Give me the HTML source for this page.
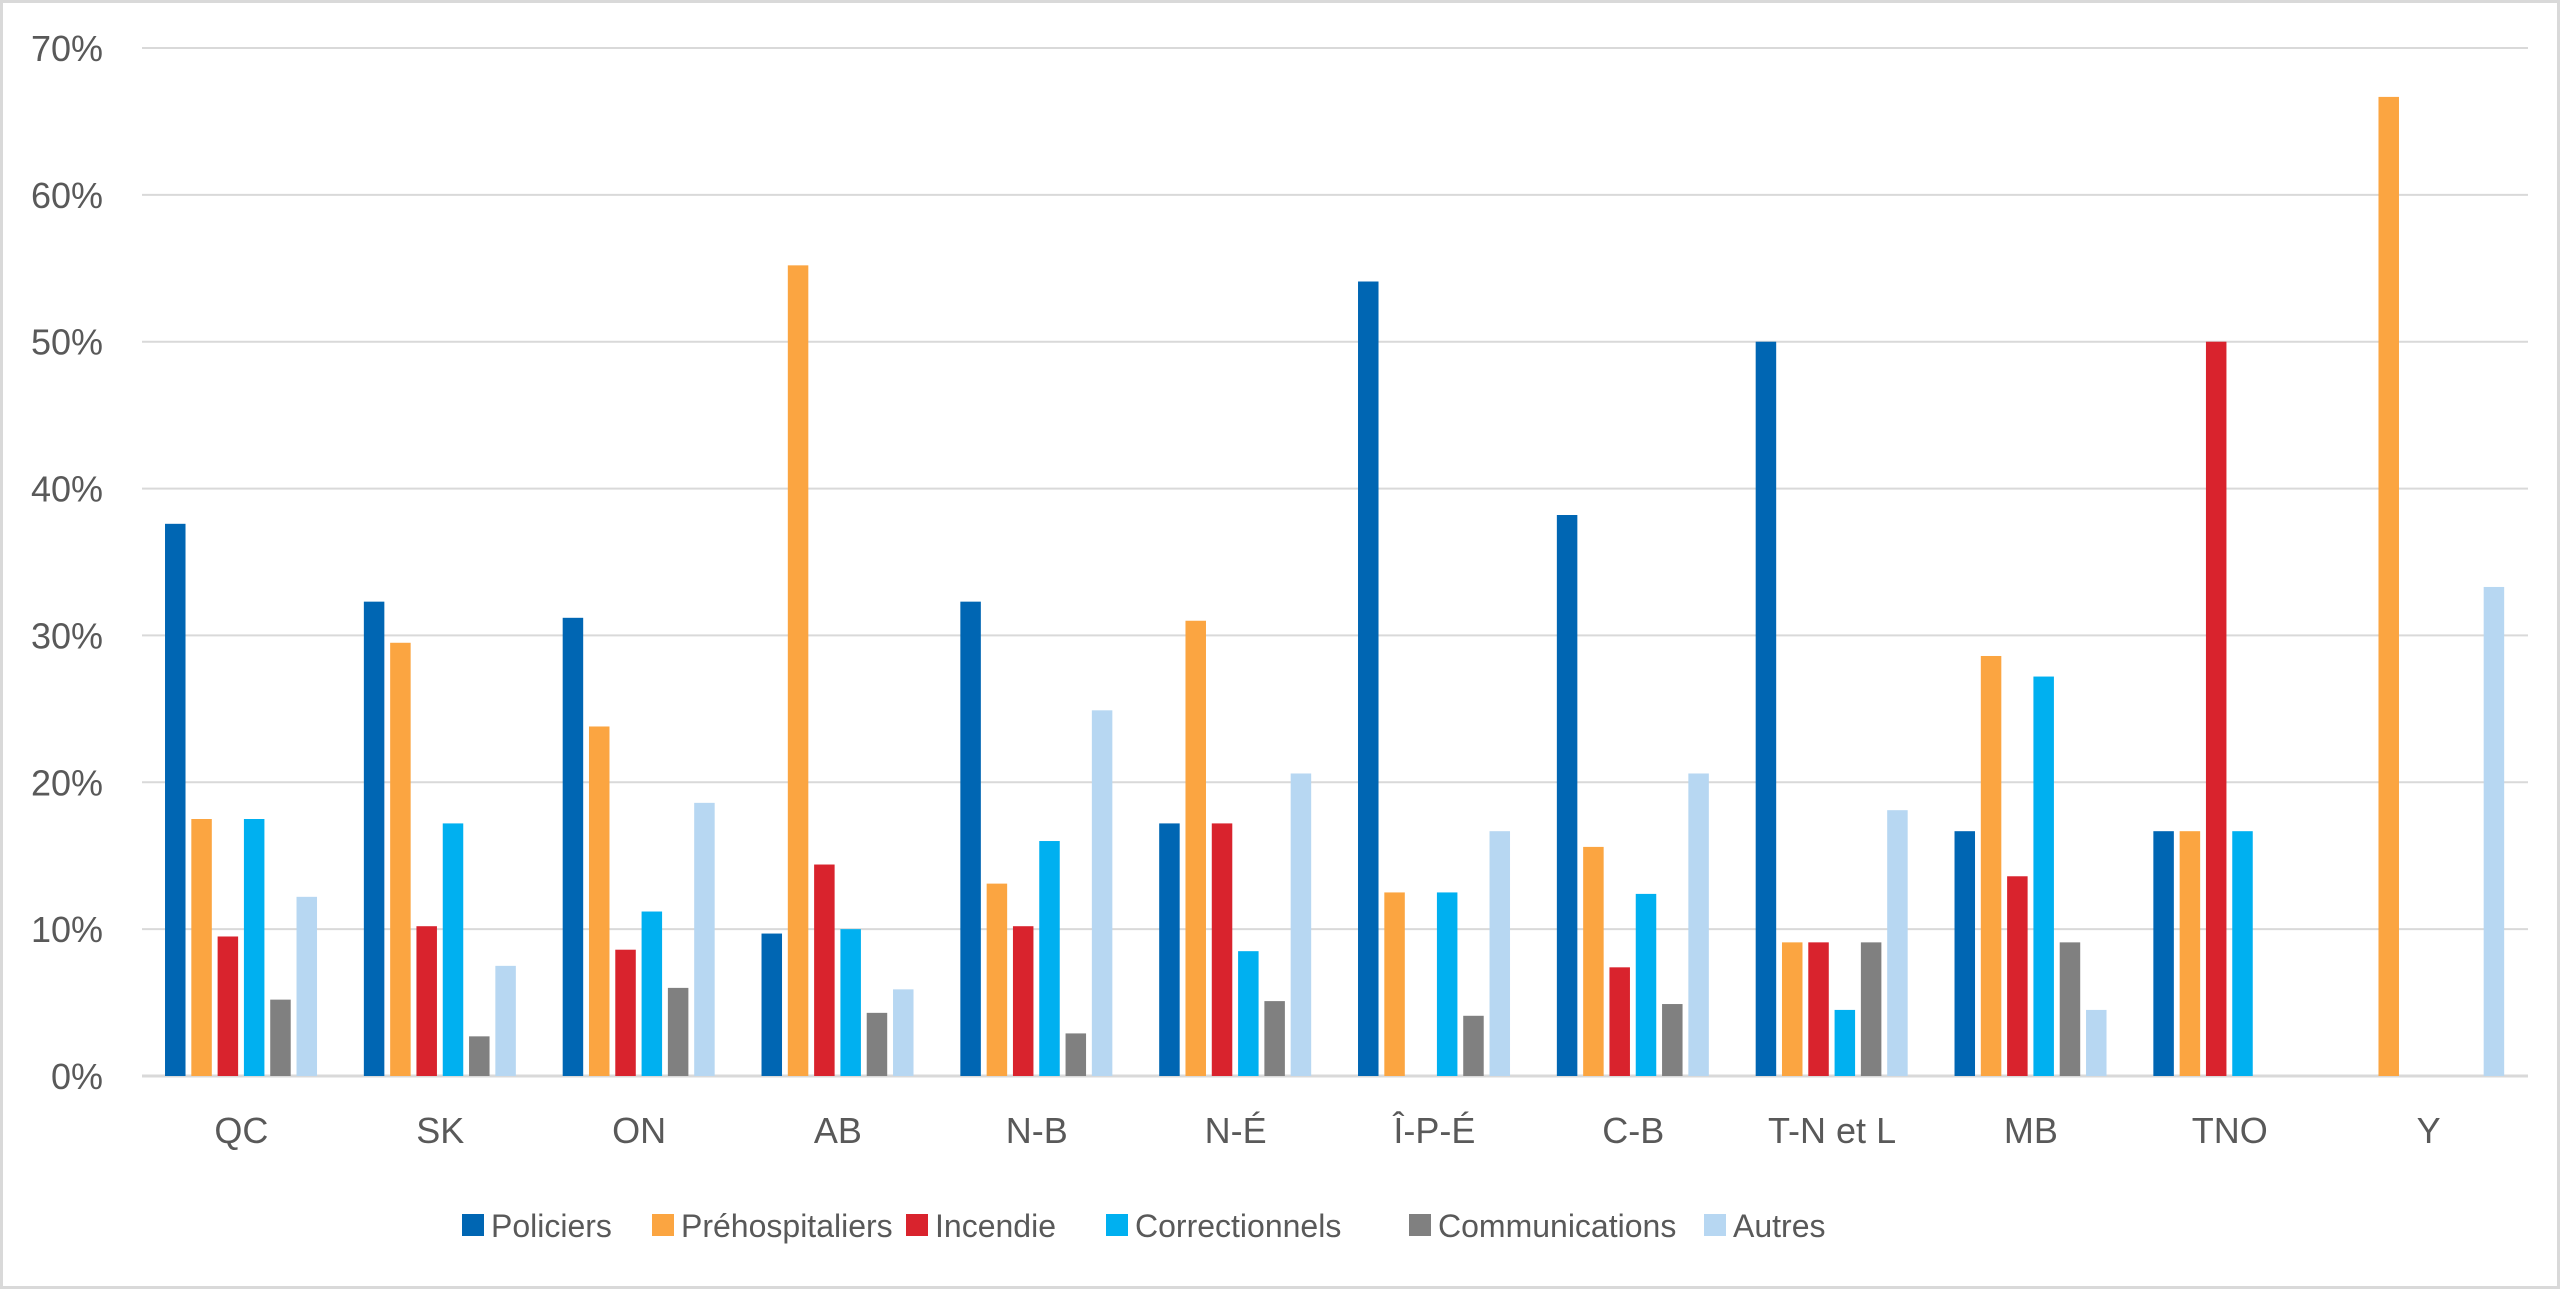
<!DOCTYPE html>
<html><head><meta charset="utf-8"><style>
html,body{margin:0;padding:0;background:#fff;}
svg{display:block;font-family:"Liberation Sans",sans-serif;}
</style></head><body>
<svg id="chart" width="2560" height="1289">
<rect x="1.5" y="1.5" width="2557" height="1286" fill="#fff" stroke="#d9d9d9" stroke-width="3"/>
<g id="grid"></g><g id="bars"></g><g id="labels"></g><g id="legend"></g>
</svg>
<script>
const categories=["QC","SK","ON","AB","N-B","N-É","Î-P-É","C-B","T-N et L","MB","TNO","Y"];
const seriesNames=["Policiers","Préhospitaliers","Incendie","Correctionnels","Communications","Autres"];
const policiers=[37.6,32.3,31.2,9.7,32.3,17.2,54.1,38.2,50,16.67,16.67,0];
const prehospitaliers=[17.5,29.5,23.8,55.2,13.1,31.0,12.5,15.6,9.1,28.6,16.67,66.67];
const incendie=[9.5,10.2,8.6,14.4,10.2,17.2,0,7.4,9.1,13.6,50,0];
const correctionnels=[17.5,17.2,11.2,10.0,16.0,8.5,12.5,12.4,4.5,27.2,16.67,0];
const communications=[5.2,2.7,6.0,4.3,2.9,5.1,4.1,4.9,9.1,9.1,0,0];
const autres=[12.2,7.5,18.6,5.9,24.9,20.6,16.67,20.6,18.1,4.5,0,33.3];
const yTicks=[0,10,20,30,40,50,60,70];
const tickLabels=["0%","10%","20%","30%","40%","50%","60%","70%"];
const series=[policiers,prehospitaliers,incendie,correctionnels,communications,autres];
const colors=["#0066b3","#fba541","#d9232d","#00b0f0","#808080","#b7d7f2"];
const NS="http://www.w3.org/2000/svg";
const X0=142,X1=2528,Y0=1076,Y70=48;
const y=v=>Y0-(v/70)*(Y0-Y70);
const cw=(X1-X0)/categories.length;
const xc=i=>X0+cw*(i+0.5);
function mk(t,a,p){const e=document.createElementNS(NS,t);for(const k in a)e.setAttribute(k,a[k]);p.appendChild(e);return e;}
const grid=document.getElementById('grid');
yTicks.forEach((t,i)=>{
 const l=mk('line',{x1:X0,x2:X1,y1:y(t),y2:y(t),stroke:'#d9d9d9','stroke-width':t===0?3:2},grid);
 
 
 const tx=mk('text',{x:103,y:y(t)+13,'text-anchor':'end','font-size':36,fill:'#595959'},grid);
 tx.textContent=tickLabels[i];
 
 
});
const bars=document.getElementById('bars');
const step=26.3,bw=20.5;
categories.forEach((c,i)=>{
 series.forEach((s,j)=>{
  const v=s[i]; if(!v) return;
  const bx=xc(i)-3*step+j*step+2.5;
  const r=mk('rect',{x:bx,y:y(v),width:bw,height:Y0-y(v),fill:colors[j]},bars);
  
  
 });
 const t=mk('text',{x:xc(i),y:1143,'text-anchor':'middle','font-size':36,fill:'#595959'},document.getElementById('labels'));
 t.textContent=c;
 
 
});
const legend=document.getElementById('legend');
const lx=[462,652,906,1106,1409,1704];
seriesNames.forEach((n,j)=>{
 const g=mk('g',{},legend);
 
 
 mk('rect',{x:lx[j],y:1214,width:22,height:22,fill:colors[j]},g);
 const t=mk('text',{x:lx[j]+29,y:1237,'font-size':32,fill:'#595959'},g);
 t.textContent=n;
});
</script>
</body></html>
